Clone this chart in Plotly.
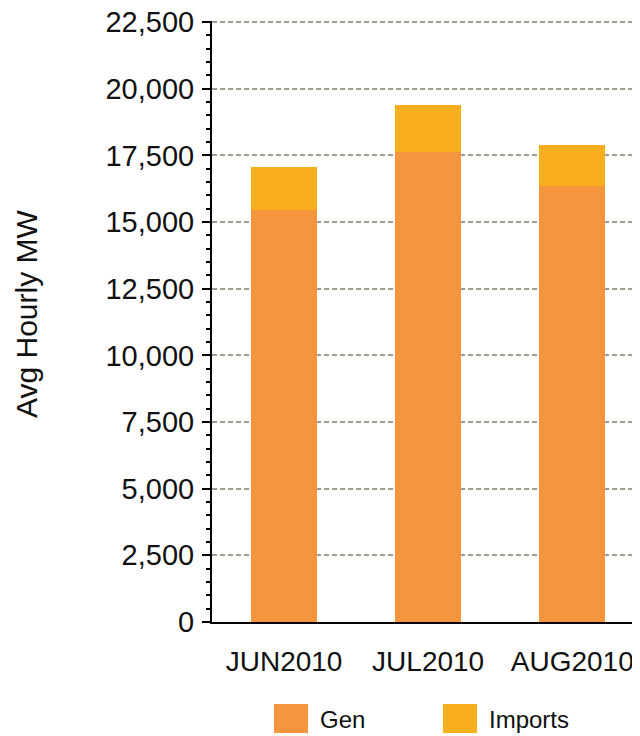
import plotly.graph_objects as go

# ----------------------------------------------------------------------
#  Data
# ----------------------------------------------------------------------

months = ['JUN2010', 'JUL2010', 'AUG2010']
gen = [15460, 17630, 16350]
imports = [1600, 1760, 1540]

series_names = ['Gen', 'Imports']
series_colors = ['#F5963E', '#F9AF1D']

y_ticks = [0, 2500, 5000, 7500, 10000, 12500, 15000, 17500, 20000, 22500]

FONT = 'Arial, Liberation Sans, sans-serif'

# ----------------------------------------------------------------------
#  Figure
# ----------------------------------------------------------------------

fig = go.Figure()

for name, color, vals in zip(series_names, series_colors, [gen, imports]):
    fig.add_trace(go.Bar(
        x=months,
        y=vals,
        name=name,
        marker=dict(color=color, line=dict(width=0)),
        showlegend=False))

# the page body has an 8px margin, so the figure is drawn 8px smaller
# and every pixel position below is in page coordinates
OFF = 8
W, H = 640 - OFF, 736 - OFF
L, R, T = 212 - OFF, 0, 21 - OFF
B = H - T - 601
pw, ph = W - L - R, H - T - B

def px_x(x):
    return (x - OFF - L) / pw

def px_y(y):
    return (H - B - (y - OFF)) / ph

# legend (large square swatches like the reference)
legend_x = [274, 443]
for name, color, lx in zip(series_names, series_colors, legend_x):
    fig.add_shape(type='rect', xref='paper', yref='paper',
                  x0=px_x(lx), x1=px_x(lx + 34),
                  y0=px_y(704), y1=px_y(733),
                  fillcolor=color, line=dict(width=0))
    fig.add_annotation(xref='paper', yref='paper',
                       x=px_x(lx + 44), y=px_y(719),
                       text=name, showarrow=False,
                       xanchor='left', yanchor='middle',
                       font=dict(family=FONT, size=24, color='#111111'))

# y axis title
fig.add_annotation(xref='paper', yref='paper',
                   x=px_x(26), y=px_y(314),
                   text='Avg Hourly MW', textangle=-90, showarrow=False,
                   xanchor='center', yanchor='middle',
                   font=dict(family=FONT, size=30, color='#111111'))

fig.update_xaxes(
    type='category',
    range=[-0.5, 2.47],
    showline=True, linecolor='#000000', linewidth=2,
    ticks='outside', ticklen=13, tickcolor='rgba(0,0,0,0)',
    tickfont=dict(family=FONT, size=28, color='#111111'),
    showgrid=False, zeroline=False)

fig.update_yaxes(
    range=[0, 22540],
    tickvals=y_ticks,
    tickformat=',d',
    showline=True, linecolor='#000000', linewidth=2,
    ticks='outside', ticklen=8, tickwidth=2, tickcolor='#000000',
    ticklabelstandoff=2, ticklabeloverflow='allow',
    minor=dict(dtick=500, ticks='outside', ticklen=4, tickwidth=1.5,
               tickcolor='#000000', showgrid=False),
    tickfont=dict(family=FONT, size=29, color='#111111'),
    showgrid=True, gridcolor='#A59C90', gridwidth=1.6, griddash='5px,3px',
    zeroline=False)

fig.update_layout(
    width=W, height=H,
    barmode='stack', bargap=0.54,
    margin=dict(l=L, r=R, t=T, b=B, autoexpand=False),
    paper_bgcolor='white', plot_bgcolor='white',
    font=dict(family=FONT),
    showlegend=False)

fig.write_html("out.html")
